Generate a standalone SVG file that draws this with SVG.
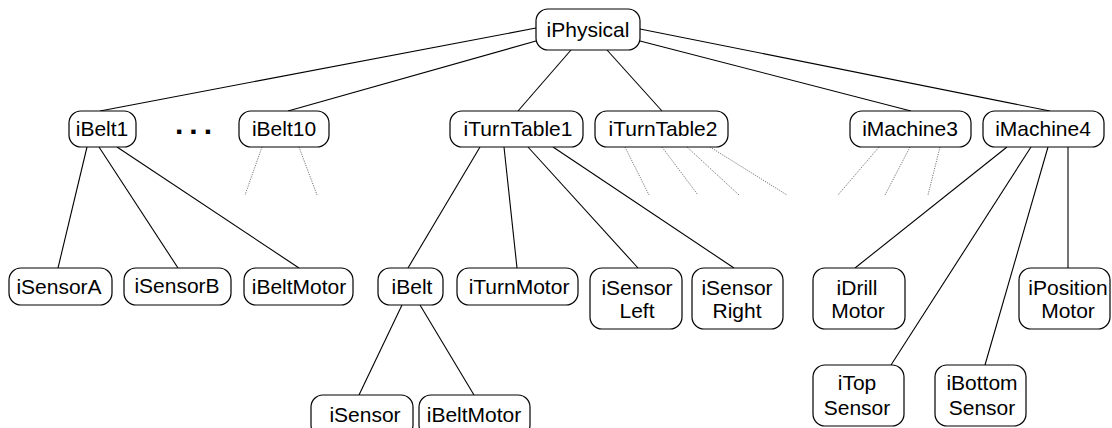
<svg xmlns="http://www.w3.org/2000/svg" width="1112" height="428" viewBox="0 0 1112 428">
<style>
.n rect{fill:#fff;stroke:#000;stroke-width:1.2}
.n text{font-family:"Liberation Sans",Arial,sans-serif;font-size:21px;fill:#000;text-anchor:middle}
.e line{stroke:#000;stroke-width:1.1}
.d line{stroke:#666;stroke-width:0.9;stroke-dasharray:1.2 1.2}
</style>
<rect width="1112" height="428" fill="#fff"/>
<g id="connectors">
<g class="e">
<line x1="536" y1="28" x2="100" y2="111"/>
<line x1="536" y1="41" x2="288" y2="111"/>
<line x1="571" y1="50" x2="518" y2="111"/>
<line x1="607" y1="50" x2="662" y2="111"/>
<line x1="640" y1="41" x2="911" y2="111"/>
<line x1="640" y1="29" x2="1050" y2="111"/>
<line x1="87" y1="147" x2="58" y2="268"/>
<line x1="99" y1="147" x2="178" y2="268"/>
<line x1="117" y1="147" x2="299" y2="268"/>
<line x1="480" y1="147" x2="408" y2="268"/>
<line x1="504" y1="147" x2="517" y2="268"/>
<line x1="528" y1="147" x2="638" y2="268"/>
<line x1="553" y1="147" x2="734" y2="268"/>
<line x1="402" y1="305" x2="359" y2="395"/>
<line x1="420" y1="305" x2="474" y2="395"/>
<line x1="1007" y1="147" x2="855" y2="268"/>
<line x1="1031" y1="147" x2="891" y2="365"/>
<line x1="1048" y1="147" x2="985" y2="365"/>
<line x1="1068" y1="147" x2="1068" y2="268"/>
</g>
<g class="d">
<line x1="262" y1="147" x2="245" y2="195"/>
<line x1="299" y1="147" x2="317" y2="195"/>
<line x1="625" y1="147" x2="649" y2="195"/>
<line x1="662" y1="147" x2="698" y2="195"/>
<line x1="687" y1="147" x2="739" y2="195"/>
<line x1="710" y1="147" x2="787" y2="195"/>
<line x1="879" y1="147" x2="838" y2="195"/>
<line x1="910" y1="147" x2="885" y2="195"/>
<line x1="940" y1="147" x2="928" y2="195"/>
</g>
</g>
<text x="175" y="134" font-family="Liberation Sans,Arial,sans-serif" font-size="30" font-weight="bold" letter-spacing="6">...</text>
<g id="iPhysical" class="n"><rect x="536" y="9" width="104" height="41" rx="12"/><text x="588" y="37">iPhysical</text></g>
<g id="iBelt1" class="n"><rect x="69" y="111" width="67" height="36" rx="12"/><text x="102" y="136">iBelt1</text></g>
<g id="iBelt10" class="n"><rect x="239" y="111" width="90" height="36" rx="12"/><text x="284" y="136">iBelt10</text></g>
<g id="iTurnTable1" class="n"><rect x="450" y="111" width="133" height="36" rx="12"/><text x="518" y="136">iTurnTable1</text></g>
<g id="iTurnTable2" class="n"><rect x="595" y="111" width="133" height="36" rx="12"/><text x="663" y="136">iTurnTable2</text></g>
<g id="iMachine3" class="n"><rect x="850" y="111" width="121" height="36" rx="12"/><text x="910" y="136">iMachine3</text></g>
<g id="iMachine4" class="n"><rect x="983" y="111" width="121" height="36" rx="12"/><text x="1043" y="136">iMachine4</text></g>
<g id="iSensorA" class="n"><rect x="9" y="268" width="103" height="37" rx="12"/><text x="59" y="294">iSensorA</text></g>
<g id="iSensorB" class="n"><rect x="124" y="268" width="107" height="37" rx="12"/><text x="177" y="293">iSensorB</text></g>
<g id="iBeltMotor1" class="n"><rect x="244" y="268" width="109" height="37" rx="12"/><text x="299" y="294">iBeltMotor</text></g>
<g id="iBelt" class="n"><rect x="378" y="268" width="65" height="37" rx="12"/><text x="412" y="294">iBelt</text></g>
<g id="iTurnMotor" class="n"><rect x="457" y="268" width="121" height="37" rx="12"/><text x="519" y="294">iTurnMotor</text></g>
<g id="iSensorLeft" class="n"><rect x="590" y="268" width="92" height="61" rx="12"/><text x="637" y="295">iSensor</text><text x="637" y="318">Left</text></g>
<g id="iSensorRight" class="n"><rect x="692" y="268" width="91" height="61" rx="12"/><text x="737" y="295">iSensor</text><text x="737" y="318">Right</text></g>
<g id="iDrillMotor" class="n"><rect x="813" y="268" width="92" height="61" rx="12"/><text x="857" y="295">iDrill</text><text x="858" y="318">Motor</text></g>
<g id="iPositionMotor" class="n"><rect x="1019" y="268" width="91" height="61" rx="12"/><text x="1068" y="295">iPosition</text><text x="1068" y="318">Motor</text></g>
<g id="iSensor" class="n"><rect x="311" y="395" width="102" height="42" rx="12"/><text x="365" y="422">iSensor</text></g>
<g id="iBeltMotor2" class="n"><rect x="419" y="395" width="111" height="42" rx="12"/><text x="474" y="422">iBeltMotor</text></g>
<g id="iTopSensor" class="n"><rect x="813" y="365" width="91" height="61" rx="12"/><text x="857" y="390">iTop</text><text x="857" y="415">Sensor</text></g>
<g id="iBottomSensor" class="n"><rect x="935" y="365" width="91" height="61" rx="12"/><text x="982" y="390">iBottom</text><text x="982" y="415">Sensor</text></g>
</svg>
